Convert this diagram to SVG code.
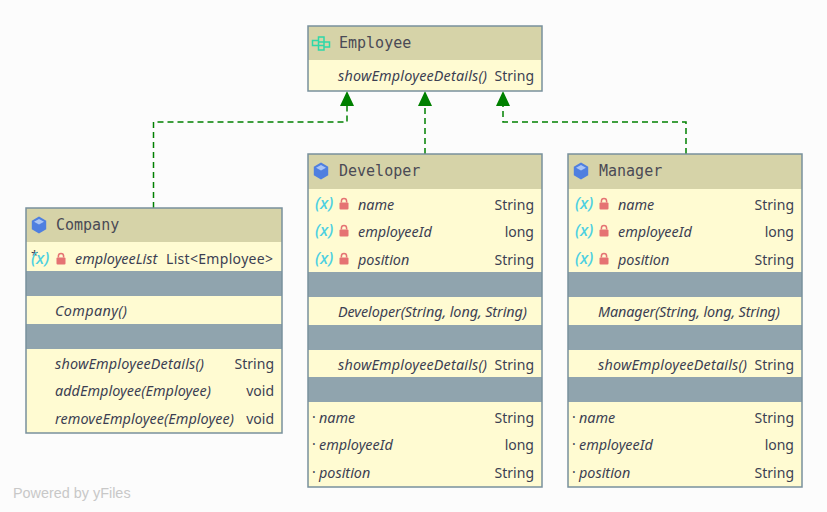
<svg xmlns="http://www.w3.org/2000/svg" width="827" height="512" viewBox="0 0 827 512">
<style>
.bg{fill:#fffbd2;stroke:none}
.hd{fill:#d6d3a8}
.gr{fill:#90a4ae}
.bd{fill:none;stroke:#78909c;stroke-width:1.5}
text{font-family:"Noto Sans","Open Sans",sans-serif;font-size:14px;fill:#3c3f52}
text.t{font-family:"DejaVu Sans Mono",monospace;font-size:15px;fill:#4a4a55}
text.i{font-style:italic;font-size:14.400px}
.r{text-anchor:end}
text.x{font-style:italic;fill:#4dd0e1;font-size:16.500px;font-weight:500}
text.p{font-size:13px;fill:#3c3f52}
.edge{fill:none;stroke:#008000;stroke-width:1.5;stroke-dasharray:6 4}
.arrow{fill:#008000}
.lk{fill:#e57373}
text.wm{font-family:"Liberation Sans",sans-serif;font-size:14.400px;fill:#c8c8c8}
</style>
<defs>
<g id="cube"><path d="M0-8.500 7.200-4.200V4.200L0 8.500-7.200 4.200V-4.200Z" fill="#4f7fe0"/><path d="M0-6 5-3.300 0-.6-5-3.300Z" fill="#a9c4f5"/></g>
<g id="lock"><rect x="-4.500" y="-.5" width="9" height="7" rx="1" class="lk"/><path d="M-2.600-.5V-2a2.600 2.600 0 0 1 5.200 0V-.5" fill="none" stroke="#e57373" stroke-width="1.500"/></g>
<g id="iface" fill="none" stroke="#2ed8a8" stroke-width="1.500"><path d="M-8.500-2.500H-2.500V2.500H-8.500Z M-2.500-6H3V-1H-2.500Z M3-1H8.500V4H3Z M-2.500 2.500H3V7H-2.500Z M-2.500-1H3V2.500H-2.500Z"/></g>
</defs>
<rect width="827" height="512" fill="#fcfcfc"/>
<g id="connectors">
<path class="edge" d="M153.500 208V122H347V105"/>
<path class="edge" d="M425 154V105"/>
<path class="edge" d="M686 154V122H503V105"/>
<path class="arrow" d="M347 91l7 15h-14Z"/>
<path class="arrow" d="M425 91l7 15h-14Z"/>
<path class="arrow" d="M503 91l7 15h-14Z"/>
</g>
<g id="employee">
<rect class="bg" x="308" y="26" width="234" height="65"/>
<rect class="hd" x="308" y="26" width="234" height="34"/>
<use href="#iface" x="321" y="43"/>
<text class="t" x="339" y="48">Employee</text>
<text class="i" x="338" y="81" textLength="149">showEmployeeDetails()</text>
<text class="r" x="534" y="81">String</text>
<rect class="bd" x="308" y="26" width="234" height="65"/>
</g>
<g id="company">
<rect class="bg" x="26" y="208" width="256" height="225"/>
<rect class="hd" x="26" y="208" width="256" height="34"/>
<rect class="gr" x="26" y="271" width="256" height="25"/>
<rect class="gr" x="26" y="324" width="256" height="25"/>
<use href="#cube" x="39" y="225"/>
<text class="t" x="56" y="230">Company</text>
<text class="p" x="31" y="260">*</text>
<text class="x" x="31" y="264">(x)</text>
<use href="#lock" x="61" y="258"/>
<text class="i" x="75" y="264">employeeList</text>
<text x="166" y="264" textLength="107">List&lt;Employee&gt;</text>
<text class="i" x="55" y="316" textLength="72">Company()</text>
<text class="i" x="55" y="369" textLength="149">showEmployeeDetails()</text>
<text class="r" x="274" y="369">String</text>
<text class="i" x="55" y="396" textLength="156">addEmployee(Employee)</text>
<text class="r" x="274" y="396">void</text>
<text class="i" x="55" y="424" textLength="179">removeEmployee(Employee)</text>
<text class="r" x="274" y="424">void</text>
<rect class="bd" x="26" y="208" width="256" height="225"/>
</g>
<g id="developer">
<rect class="bg" x="308" y="154" width="234" height="333"/>
<rect class="hd" x="308" y="154" width="234" height="35"/>
<rect class="gr" x="308" y="272" width="234" height="25"/>
<rect class="gr" x="308" y="325" width="234" height="25"/>
<rect class="gr" x="308" y="377" width="234" height="25"/>
<use href="#cube" x="321" y="171"/>
<text class="t" x="339" y="176">Developer</text>
<text class="x" x="315" y="209">(x)</text><use href="#lock" x="344" y="203"/><text class="i" x="358" y="210">name</text><text class="r" x="534" y="210">String</text>
<text class="x" x="315" y="236">(x)</text><use href="#lock" x="344" y="230"/><text class="i" x="358" y="237">employeeId</text><text class="r" x="534" y="237">long</text>
<text class="x" x="315" y="264">(x)</text><use href="#lock" x="344" y="258"/><text class="i" x="358" y="265">position</text><text class="r" x="534" y="265">String</text>
<text class="i" x="338" y="317" textLength="189">Developer(String, long, String)</text>
<text class="i" x="338" y="370" textLength="149">showEmployeeDetails()</text><text class="r" x="534" y="370">String</text>
<text x="312" y="422">·</text><text class="i" x="319" y="423">name</text><text class="r" x="534" y="423">String</text>
<text x="312" y="449">·</text><text class="i" x="319" y="450">employeeId</text><text class="r" x="534" y="450">long</text>
<text x="312" y="477">·</text><text class="i" x="319" y="478">position</text><text class="r" x="534" y="478">String</text>
<rect class="bd" x="308" y="154" width="234" height="333"/>
</g>
<g id="manager">
<rect class="bg" x="568" y="154" width="234" height="333"/>
<rect class="hd" x="568" y="154" width="234" height="35"/>
<rect class="gr" x="568" y="272" width="234" height="25"/>
<rect class="gr" x="568" y="325" width="234" height="25"/>
<rect class="gr" x="568" y="377" width="234" height="25"/>
<use href="#cube" x="581" y="171"/>
<text class="t" x="599" y="176">Manager</text>
<text class="x" x="575" y="209">(x)</text><use href="#lock" x="604" y="203"/><text class="i" x="618" y="210">name</text><text class="r" x="794" y="210">String</text>
<text class="x" x="575" y="236">(x)</text><use href="#lock" x="604" y="230"/><text class="i" x="618" y="237">employeeId</text><text class="r" x="794" y="237">long</text>
<text class="x" x="575" y="264">(x)</text><use href="#lock" x="604" y="258"/><text class="i" x="618" y="265">position</text><text class="r" x="794" y="265">String</text>
<text class="i" x="598" y="317" textLength="182">Manager(String, long, String)</text>
<text class="i" x="598" y="370" textLength="149">showEmployeeDetails()</text><text class="r" x="794" y="370">String</text>
<text x="572" y="422">·</text><text class="i" x="579" y="423">name</text><text class="r" x="794" y="423">String</text>
<text x="572" y="449">·</text><text class="i" x="579" y="450">employeeId</text><text class="r" x="794" y="450">long</text>
<text x="572" y="477">·</text><text class="i" x="579" y="478">position</text><text class="r" x="794" y="478">String</text>
<rect class="bd" x="568" y="154" width="234" height="333"/>
</g>
<text class="wm" x="13" y="498">Powered by yFiles</text>
</svg>
